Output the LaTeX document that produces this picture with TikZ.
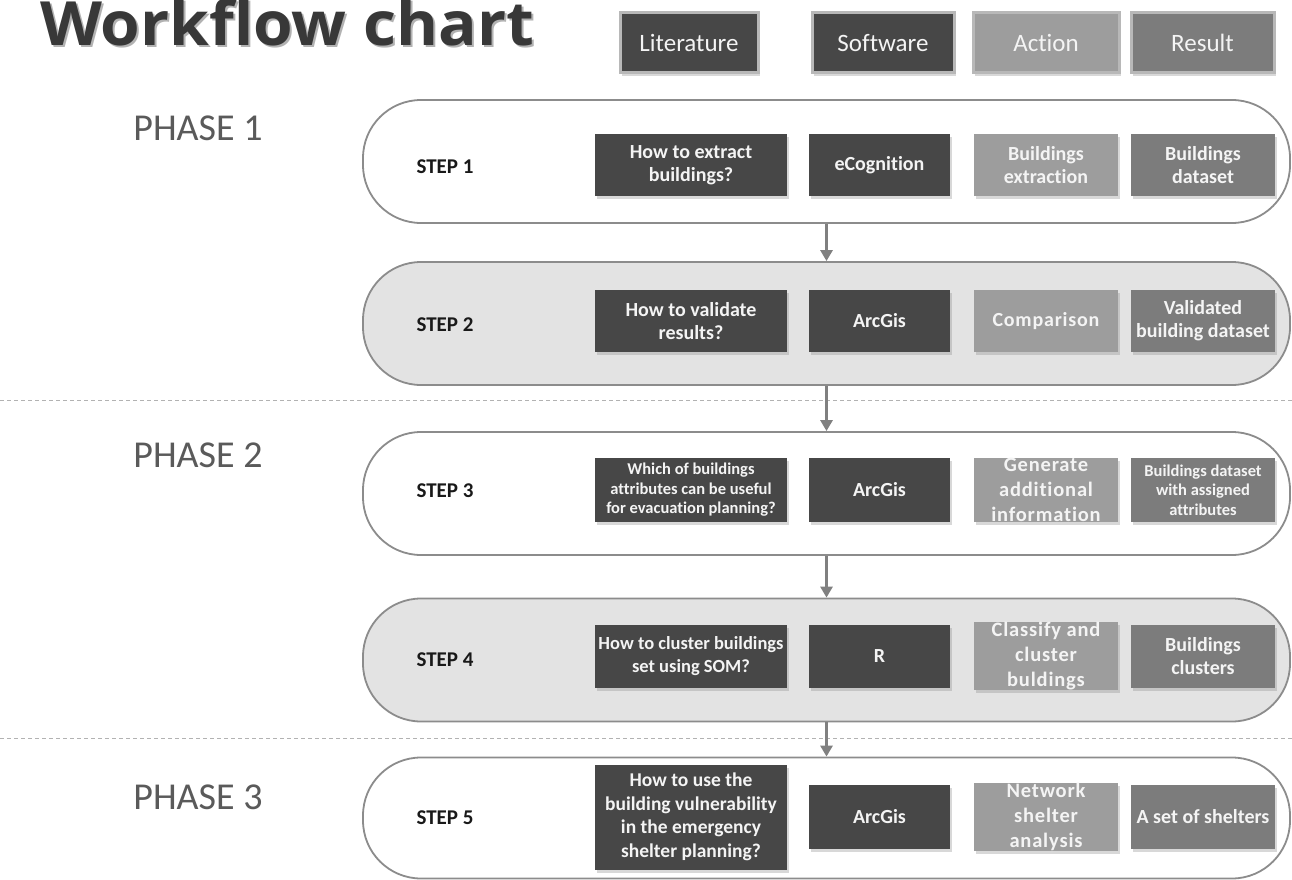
\documentclass[tikz,border=0pt]{standalone}
\usepackage{fontspec}
\setmainfont{Carlito}[Ligatures=NoCommon]
\newfontfamily\titlefont{Open Sans}
\usetikzlibrary{shadows,arrows.meta}
\definecolor{darkc}{HTML}{474747}
\definecolor{actc}{HTML}{9D9D9D}
\definecolor{resc}{HTML}{7C7C7C}
\definecolor{pillgray}{HTML}{E3E3E3}
\definecolor{pilledge}{HTML}{8C8C8C}
\definecolor{phasec}{HTML}{5A5A5A}
\definecolor{arrc}{HTML}{808080}
\definecolor{boxtext}{HTML}{F4F4F4}
\tikzset{
  pill/.style={draw=pilledge, line width=1.8pt, rounded corners=58pt,
    minimum width=927pt, minimum height=123pt, inner sep=0pt},
  steplabel/.style={font=\bfseries\fontsize{21}{24}\selectfont, text=black!90},
  phaselabel/.style={font=\fontsize{38}{44}\selectfont, text=phasec},
  cellbox/.style={text=boxtext, align=center, inner sep=0pt,
    font=\bfseries\fontsize{20}{23}\selectfont,
    drop shadow={shadow xshift=2pt, shadow yshift=-3pt, opacity=0.3}},
  legbox/.style={draw=black!28, line width=3pt, text=boxtext, inner sep=0pt,
    minimum height=60pt, font=\fontsize{25}{28}\selectfont,
    drop shadow={shadow xshift=2pt, shadow yshift=-3pt, opacity=0.3}},
  cA/.style={cellbox, fill=darkc, minimum width=192pt},
  cB/.style={cellbox, fill=darkc, minimum width=141pt},
  cC/.style={cellbox, fill=actc, minimum width=144pt},
  cD/.style={cellbox, fill=resc, minimum width=144pt},
  flowarrow/.style={draw=arrc, line width=2.8pt, -{Triangle[length=11pt,width=12pt]}},
  phaseline/.style={draw=black!30, line width=0.8pt, dash pattern=on 4pt off 3pt},
}
\begin{document}
\begin{tikzpicture}[x=1pt,y=-1pt]
\useasboundingbox (0,0) rectangle (1292,880);
\fill[white] (0,0) rectangle (1292,880);

% title
\node[anchor=base west, inner sep=0pt, text=black!30, font=\titlefont\bfseries\fontsize{61}{70}\selectfont] (titleshadow) at (42,48) {\scalebox{1.05}[1]{Workflow chart}};
\node[anchor=base west, inner sep=0pt, text=black!78, font=\titlefont\bfseries\fontsize{61}{70}\selectfont] (title) at (40,46) {\scalebox{1.05}[1]{Workflow chart}};

% legend
\node[legbox, fill=darkc, minimum width=138pt] (lit) at (689,43) {Literature};
\node[legbox, fill=darkc, minimum width=142pt] (soft) at (883,43) {Software};
\node[legbox, fill=actc, minimum width=146pt] (act) at (1046,43) {Action};
\node[legbox, fill=resc, minimum width=143pt] (res) at (1202.5,43) {Result};

% phase separators
\coordinate (d1a) at (0,400); \coordinate (d1b) at (1292,400);
\coordinate (d2a) at (0,738); \coordinate (d2b) at (1292,738);
\draw[phaseline] (d1a) -- (d1b);
\draw[phaseline] (d2a) -- (d2b);

% phases
\node[phaselabel] (ph1) at (198,128) {PHASE 1};
\node[phaselabel] (ph2) at (198,455) {PHASE 2};
\node[phaselabel] (ph3) at (198,797) {PHASE 3};

% pills
\node[pill, fill=white] (p1) at (826.5,161.5) {};
\node[pill, fill=pillgray] (p2) at (826.5,323.5) {};
\node[pill, fill=white] (p3) at (826.5,493.5) {};
\node[pill, fill=pillgray] (p4) at (826.5,660) {};
\node[pill, fill=white, minimum height=121pt] (p5) at (826.5,818) {};

% arrows
\draw[flowarrow] (p1) -- (p2);
\draw[flowarrow] (p2) -- (p3);
\draw[flowarrow] (p3) -- (p4);
\draw[flowarrow] (p4) -- (p5);

% step labels
\node[steplabel] (s1) at (445,167) {STEP 1};
\node[steplabel] (s2) at (445,325) {STEP 2};
\node[steplabel] (s3) at (445,491) {STEP 3};
\node[steplabel] (s4) at (445,660) {STEP 4};
\node[steplabel] (s5) at (445,818) {STEP 5};

% step 1
\node[cA, minimum height=62pt] (s1a) at (691,165) {How to extract\\buildings?};
\node[cB, minimum height=62pt] (s1b) at (879.5,165) {eCognition};
\node[cC, minimum height=62pt] (s1c) at (1046,165) {Buildings\\extraction};
\node[cD, minimum height=62pt] (s1d) at (1203,165) {Buildings\\dataset};

% step 2
\node[cA, minimum height=62pt] (s2a) at (691,321) {How to validate\\results?};
\node[cB, minimum height=62pt] (s2b) at (879.5,321) {ArcGis};
\node[cC, minimum height=62pt, font=\bfseries\fontsize{20}{24}\selectfont\addfontfeature{LetterSpace=4}] (s2c) at (1046,321) {Comparison};
\node[cD, minimum height=62pt] (s2d) at (1203,321) {Validated\\building dataset};

% step 3
\node[cA, minimum height=64pt, font=\bfseries\fontsize{16.5}{19.5}\selectfont] (s3a) at (691,490) {Which of buildings\\attributes can be useful\\for evacuation planning?};
\node[cB, minimum height=64pt] (s3b) at (879.5,490) {ArcGis};
\node[cC, minimum height=64pt, font=\bfseries\fontsize{20.5}{25}\selectfont\addfontfeature{LetterSpace=4}] (s3c) at (1046,490) {Generate\\additional\\information};
\node[cD, minimum height=64pt, font=\bfseries\fontsize{16.5}{19.5}\selectfont] (s3d) at (1203,490) {Buildings dataset\\with assigned\\attributes};

% step 4
\node[cA, minimum height=63pt, font=\bfseries\fontsize{18.5}{23}\selectfont] (s4a) at (691,656) {How to cluster buildings\\set using SOM?};
\node[cB, minimum height=63pt] (s4b) at (879.5,656) {R};
\node[cC, minimum height=63pt, font=\bfseries\fontsize{20.5}{25}\selectfont\addfontfeature{LetterSpace=4}] (s4c) at (1046,656) {Classify and\\cluster\\buldings};
\node[cD, minimum height=63pt] (s4d) at (1203,656) {Buildings\\clusters};

% step 5
\node[cA, minimum height=105pt, font=\bfseries\fontsize{19.5}{23.5}\selectfont] (s5a) at (691,817) {How to use the\\building vulnerability\\in the emergency\\shelter planning?};
\node[cB, minimum height=64pt] (s5b) at (879.5,817) {ArcGis};
\node[cC, minimum height=64pt, font=\bfseries\fontsize{20.5}{25}\selectfont\addfontfeature{LetterSpace=4}] (s5c) at (1046,817) {Network\\shelter\\analysis};
\node[cD, minimum height=64pt] (s5d) at (1203,817) {A set of shelters};
\end{tikzpicture}
\end{document}
